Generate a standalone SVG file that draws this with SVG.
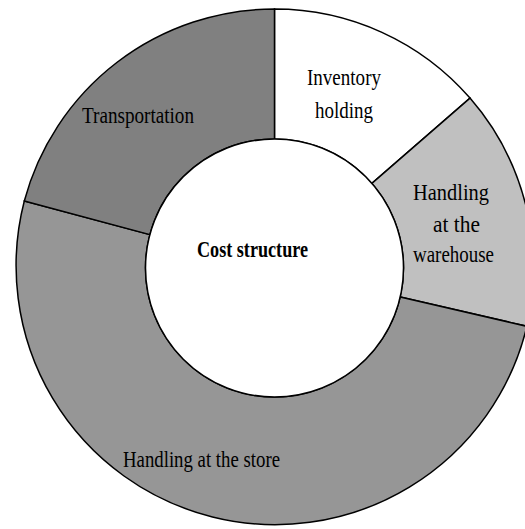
<svg xmlns="http://www.w3.org/2000/svg" width="525" height="529" viewBox="0 0 525 529">
<style>
.seg{stroke:#000;stroke-width:1.5;stroke-linejoin:miter}
.lbl{font-family:"Liberation Serif","Times New Roman",serif;font-size:24px;fill:#000}
.title{font-family:"Liberation Serif","Times New Roman",serif;font-size:24px;font-weight:bold;fill:#000}
</style>
<rect width="525" height="529" fill="#fff"/>
<g id="inventory-holding">
<path class="seg" fill="#ffffff" d="M 274.5 9 A 259 259 0 0 1 470.0 98.1 L 371.9 183.4 A 129 129 0 0 0 274.5 139 Z"/>
<text class="lbl" x="307" y="85" textLength="74" lengthAdjust="spacingAndGlyphs">Inventory</text>
<text class="lbl" x="315" y="118" textLength="58" lengthAdjust="spacingAndGlyphs">holding</text>
</g>
<g id="handling-warehouse">
<path class="seg" fill="#c0c0c0" d="M 470.0 98.1 A 259 259 0 0 1 526.9 326.3 L 400.2 297.0 A 129 129 0 0 0 371.9 183.4 Z"/>
<text class="lbl" x="413" y="200" textLength="76" lengthAdjust="spacingAndGlyphs">Handling</text>
<text class="lbl" x="433" y="232" textLength="47" lengthAdjust="spacingAndGlyphs">at the</text>
<text class="lbl" x="413" y="262" textLength="81" lengthAdjust="spacingAndGlyphs">warehouse</text>
</g>
<g id="handling-store">
<path class="seg" fill="#969696" d="M 526.9 326.3 A 259 259 0 1 1 24.3 201.0 L 149.9 234.6 A 129 129 0 1 0 400.2 297.0 Z"/>
<text class="lbl" x="123" y="467" textLength="157" lengthAdjust="spacingAndGlyphs">Handling at the store</text>
</g>
<g id="transportation">
<path class="seg" fill="#808080" d="M 24.3 201.0 A 259 259 0 0 1 274.5 9 L 274.5 139 A 129 129 0 0 0 149.9 234.6 Z"/>
<text class="lbl" x="82" y="123" textLength="112" lengthAdjust="spacingAndGlyphs">Transportation</text>
</g>
<g id="cost-structure">
<circle cx="274.5" cy="268" r="129" fill="#ffffff" stroke="#000" stroke-width="1.5"/>
<text class="title" x="197" y="257" textLength="111" lengthAdjust="spacingAndGlyphs">Cost structure</text>
</g>
<g id="connectors"></g>
</svg>
